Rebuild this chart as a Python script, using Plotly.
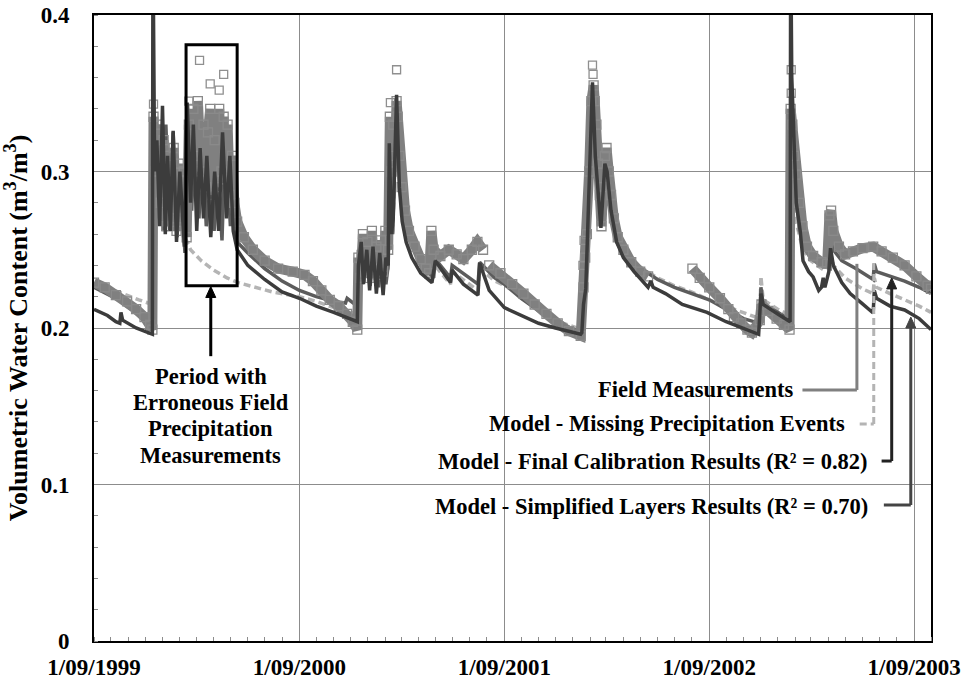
import plotly.graph_objects as go

# ---------------- data ----------------
field_dates = [
    "1999-09-01", "1999-09-20", "1999-10-10", "1999-10-30", "1999-11-15", "1999-11-30", "1999-12-10", "1999-12-14",
    "1999-12-16", "1999-12-20", "1999-12-24", "1999-12-29", "2000-01-03", "2000-01-08", "2000-01-12", "2000-01-17",
    "2000-01-21", "2000-01-26", "2000-01-30", "2000-02-04", "2000-02-08", "2000-02-13", "2000-02-17", "2000-02-21",
    "2000-02-25", "2000-02-29", "2000-03-04", "2000-03-10", "2000-03-14", "2000-03-18", "2000-03-22", "2000-03-26",
    "2000-03-30", "2000-04-03", "2000-04-07", "2000-04-11", "2000-04-15", "2000-04-19", "2000-04-22", "2000-04-26",
    "2000-04-30", "2000-05-04", "2000-05-08", "2000-05-13", "2000-05-25", "2000-06-10", "2000-07-01", "2000-07-25",
    "2000-08-20", "2000-09-10", "2000-09-25", "2000-10-10", "2000-10-25", "2000-11-10", "2000-11-25", "2000-12-05",
    "2000-12-13", "2000-12-15", "2000-12-19", "2000-12-23", "2000-12-27", "2000-12-31", "2001-01-04", "2001-01-08",
    "2001-01-12", "2001-01-16", "2001-01-20", "2001-01-24", "2001-01-28", "2001-02-01", "2001-02-06", "2001-02-09",
    "2001-02-12", "2001-02-15", "2001-02-18", "2001-02-21", "2001-02-23", "2001-02-26", "2001-03-02", "2001-03-08",
    "2001-03-15", "2001-03-25", "2001-04-05", "2001-04-14", "2001-04-20", "2001-04-24", "2001-04-28", "2001-05-10",
    "2001-05-25", "2001-06-08", "2001-06-20", "2001-07-05", "2001-07-15", "2001-07-25", "2001-07-30", "2001-08-05",
    "2001-08-25", "2001-09-15", "2001-10-05", "2001-10-25", "2001-11-15", "2001-12-05", "2001-12-25", "2002-01-15",
    "2002-01-20", "2002-01-23", "2002-01-26", "2002-01-30", "2002-02-03", "2002-02-07", "2002-02-09", "2002-02-12",
    "2002-02-15", "2002-02-18", "2002-02-21", "2002-02-24", "2002-02-27", "2002-03-02", "2002-03-06", "2002-03-10",
    "2002-03-15", "2002-03-22", "2002-04-01", "2002-04-15", "2002-05-01", "2002-05-15", "2002-06-01", "2002-08-02",
    "2002-08-15", "2002-09-01", "2002-09-20", "2002-10-05", "2002-10-15", "2002-10-28", "2002-11-08", "2002-11-16",
    "2002-11-30", "2002-12-03", "2002-12-15", "2002-12-30", "2003-01-12", "2003-01-22", "2003-01-24", "2003-01-27",
    "2003-01-30", "2003-02-03", "2003-02-08", "2003-02-14", "2003-02-22", "2003-03-05", "2003-03-20", "2003-03-30",
    "2003-04-03", "2003-04-06", "2003-04-10", "2003-04-20", "2003-05-01", "2003-05-15", "2003-06-01", "2003-06-20",
    "2003-07-05", "2003-07-25", "2003-08-15", "2003-09-05", "2003-09-25", "2003-10-01",
]
field_values = [
    0.229, 0.226, 0.221, 0.217, 0.212, 0.207, 0.202, 0.199,
    0.335, 0.300, 0.330, 0.280, 0.320, 0.265, 0.310, 0.270,
    0.315, 0.262, 0.305, 0.270, 0.300, 0.258, 0.330, 0.300,
    0.340, 0.310, 0.345, 0.300, 0.330, 0.290, 0.325, 0.340,
    0.285, 0.320, 0.290, 0.340, 0.300, 0.335, 0.295, 0.330,
    0.285, 0.310, 0.280, 0.268, 0.258, 0.250, 0.243, 0.238,
    0.236, 0.234, 0.230, 0.224, 0.218, 0.214, 0.209, 0.204,
    0.199, 0.245, 0.232, 0.260, 0.236, 0.255, 0.232, 0.262,
    0.238, 0.252, 0.234, 0.256, 0.236, 0.262, 0.250, 0.335,
    0.300, 0.330, 0.310, 0.345, 0.335, 0.310, 0.290, 0.275,
    0.262, 0.252, 0.244, 0.238, 0.235, 0.262, 0.250, 0.246,
    0.250, 0.247, 0.244, 0.250, 0.255, 0.250, None, 0.240,
    0.235, 0.228, 0.222, 0.215, 0.209, 0.203, 0.198, 0.195,
    0.226, 0.245, 0.260, 0.300, 0.345, 0.355, 0.345, 0.330,
    0.305, 0.285, 0.265, 0.290, 0.310, 0.315, 0.300, 0.285,
    0.270, 0.258, 0.250, 0.242, 0.236, 0.233, None, 0.238,
    0.232, 0.226, 0.219, 0.212, 0.207, 0.203, 0.199, 0.197,
    0.205, 0.215, 0.211, 0.206, 0.202, 0.199, 0.340, 0.330,
    0.310, 0.298, 0.280, 0.265, 0.252, 0.246, 0.242, 0.241,
    0.272, 0.275, 0.262, 0.252, 0.247, 0.249, 0.251, 0.252,
    0.249, 0.245, 0.240, 0.233, 0.227, 0.225,
]

field_outlier_dates = ["1999-12-16", "2000-02-17", "2000-03-07", "2000-03-26", "2000-04-11", "2000-04-19",
                       "2001-02-10", "2001-02-21", "2002-01-19", "2002-01-21", "2002-02-05", "2002-02-06",
                       "2003-01-25", "2003-01-25"]
field_outlier_values = [0.343, 0.345, 0.371, 0.356, 0.352, 0.362,
                        0.344, 0.365, 0.240, 0.256, 0.368, 0.362,
                        0.365, 0.350]

missing_dates = [
    "1999-09-01", "1999-10-15", "1999-11-20", "1999-12-14", "1999-12-16", "1999-12-25", "2000-01-05", "2000-01-18",
    "2000-01-28", "2000-02-10", "2000-02-20", "2000-03-10", "2000-04-01", "2000-04-25", "2000-05-15", "2000-06-15",
    "2000-07-15", "2000-08-15", "2000-09-01", "2000-10-01", "2000-11-01", "2000-12-01", "2000-12-13",
    "2000-12-15", "2001-01-05", "2001-01-12", "2001-01-25", "2001-02-06", "2001-02-10", "2001-02-14", "2001-02-21",
    "2001-02-26", "2001-03-05", "2001-03-15", "2001-03-30", "2001-04-20", "2001-04-30", "2001-05-28", "2001-05-31",
    "2001-07-16", "2001-07-19", "2001-08-15", "2001-09-15", "2001-10-15", "2001-11-15", "2001-12-15", "2002-01-17",
    "2002-01-22", "2002-02-04", "2002-02-10", "2002-02-20", "2002-03-01", "2002-03-10", "2002-03-20", "2002-04-05",
    "2002-05-01", "2002-06-01", "2002-07-01", "2002-08-01", "2002-08-25", "2002-09-20", "2002-10-15", "2002-11-15",
    "2002-11-30", "2002-12-02", "2002-12-06", "2003-01-01", "2003-01-23", "2003-01-24", "2003-02-01", "2003-02-15",
    "2003-03-01", "2003-03-20", "2003-04-05", "2003-04-10", "2003-05-01", "2003-06-01", "2003-06-20", "2003-06-22",
    "2003-06-26", "2003-07-20", "2003-08-15", "2003-09-10", "2003-10-01",
]
missing_values = [
    0.228, 0.223, 0.218, 0.215, 0.300, 0.270, 0.290, 0.265,
    0.280, 0.258, 0.250, 0.243, 0.237, 0.232, 0.229, 0.226,
    0.223, 0.221, 0.220, 0.217, 0.213, 0.210, 0.209,
    0.245, 0.228, 0.252, 0.230, 0.238, 0.310, 0.260, 0.335,
    0.300, 0.275, 0.258, 0.245, 0.232, 0.240, 0.228, 0.236,
    0.224, 0.238, 0.230, 0.225, 0.217, 0.210, 0.203, 0.199,
    0.240, 0.330, 0.300, 0.270, 0.300, 0.280, 0.260, 0.248,
    0.239, 0.232, 0.227, 0.223, 0.219, 0.215, 0.212, 0.208,
    0.206, 0.233, 0.218, 0.212, 0.208, 0.300, 0.270, 0.250,
    0.243, 0.238, 0.248, 0.240, 0.232, 0.225, 0.222, 0.232,
    0.226, 0.222, 0.218, 0.214, 0.210,
]

final_dates = [
    "1999-09-01", "1999-10-15", "1999-11-20", "1999-12-14", "1999-12-16", "1999-12-22", "1999-12-27", "2000-01-02",
    "2000-01-07", "2000-01-14", "2000-01-20", "2000-01-27", "2000-02-02", "2000-02-10", "2000-02-15", "2000-02-22",
    "2000-02-28", "2000-03-06", "2000-03-12", "2000-03-19", "2000-03-25", "2000-04-02", "2000-04-08", "2000-04-16",
    "2000-04-22", "2000-05-01", "2000-05-06", "2000-05-13", "2000-06-01", "2000-07-01", "2000-08-01", "2000-09-01",
    "2000-10-01", "2000-11-01", "2000-11-22", "2000-11-25", "2000-12-13",
    "2000-12-15", "2000-12-22", "2000-12-28", "2001-01-05", "2001-01-12", "2001-01-20", "2001-01-26", "2001-02-02",
    "2001-02-06", "2001-02-10", "2001-02-14", "2001-02-21", "2001-02-25", "2001-03-03", "2001-03-12", "2001-03-25",
    "2001-04-08", "2001-04-28", "2001-05-01", "2001-05-28", "2001-05-31", "2001-07-16", "2001-07-19", "2001-08-15",
    "2001-09-01", "2001-10-01", "2001-11-01", "2001-12-01", "2002-01-01", "2002-01-17",
    "2002-01-20", "2002-01-26", "2002-02-04", "2002-02-08", "2002-02-14", "2002-02-20", "2002-02-26", "2002-03-02",
    "2002-03-08", "2002-03-18", "2002-04-01", "2002-04-20", "2002-05-10", "2002-06-01", "2002-07-01", "2002-08-01",
    "2002-09-01", "2002-10-01", "2002-11-01", "2002-11-30", "2002-12-02", "2002-12-06", "2003-01-01", "2003-01-23",
    "2003-01-25", "2003-01-30", "2003-02-05", "2003-02-15", "2003-02-28", "2003-03-20", "2003-04-04", "2003-04-05",
    "2003-04-10", "2003-04-25", "2003-05-20", "2003-06-20", "2003-06-22", "2003-06-26", "2003-07-20", "2003-08-15",
    "2003-09-10", "2003-10-01",
]
final_values = [
    0.226, 0.218, 0.208, 0.200, 0.330, 0.270, 0.320, 0.262,
    0.330, 0.262, 0.325, 0.258, 0.300, 0.248, 0.340, 0.275,
    0.330, 0.270, 0.320, 0.265, 0.300, 0.262, 0.310, 0.256,
    0.325, 0.265, 0.300, 0.255, 0.248, 0.238, 0.230, 0.224,
    0.220, 0.217, 0.216, 0.219, 0.214,
    0.250, 0.228, 0.255, 0.227, 0.258, 0.226, 0.250, 0.228,
    0.240, 0.320, 0.260, 0.345, 0.310, 0.280, 0.262, 0.250,
    0.240, 0.232, 0.244, 0.232, 0.240, 0.228, 0.242, 0.232,
    0.228, 0.219, 0.211, 0.204, 0.199, 0.197,
    0.220, 0.270, 0.350, 0.330, 0.290, 0.268, 0.305, 0.310,
    0.285, 0.262, 0.250, 0.241, 0.236, 0.231, 0.226, 0.222,
    0.218, 0.212, 0.206, 0.203, 0.226, 0.215, 0.210, 0.205,
    0.330, 0.300, 0.275, 0.255, 0.245, 0.240, 0.238, 0.262,
    0.250, 0.243, 0.238, 0.231, 0.241, 0.236, 0.233, 0.230,
    0.226, 0.222,
]

simple_dates = [
    "1999-09-01", "1999-09-25", "1999-10-10", "1999-10-17", "1999-10-19", "1999-10-22", "1999-11-15", "1999-12-14",
    "1999-12-15", "1999-12-18", "1999-12-22", "1999-12-27", "2000-01-01", "2000-01-06", "2000-01-10", "2000-01-15",
    "2000-01-20", "2000-01-26", "2000-02-01", "2000-02-09", "2000-02-14", "2000-02-20", "2000-02-25", "2000-03-02",
    "2000-03-08", "2000-03-14", "2000-03-20", "2000-03-27", "2000-04-03", "2000-04-10", "2000-04-17", "2000-04-24",
    "2000-04-30", "2000-05-06", "2000-05-13", "2000-06-01", "2000-07-01", "2000-08-01", "2000-09-01", "2000-10-01",
    "2000-11-01", "2000-12-01", "2000-12-13",
    "2000-12-15", "2000-12-20", "2000-12-24", "2000-12-30", "2001-01-04", "2001-01-10", "2001-01-16", "2001-01-22",
    "2001-01-28", "2001-02-02", "2001-02-06", "2001-02-08", "2001-02-12", "2001-02-15", "2001-02-21", "2001-02-26",
    "2001-03-03", "2001-03-10", "2001-03-20", "2001-04-05", "2001-04-25", "2001-05-01", "2001-05-28", "2001-05-31",
    "2001-06-20", "2001-07-16", "2001-07-19", "2001-08-05", "2001-09-01", "2001-10-01", "2001-11-01", "2001-12-01",
    "2002-01-15", "2002-01-17",
    "2002-01-20", "2002-01-24", "2002-02-05", "2002-02-10", "2002-02-16", "2002-02-20", "2002-02-27", "2002-03-03",
    "2002-03-10", "2002-03-20", "2002-04-01", "2002-04-20", "2002-05-15", "2002-05-20", "2002-05-24", "2002-06-15",
    "2002-07-15", "2002-08-28", "2002-10-01", "2002-11-01", "2002-11-28", "2002-12-02", "2002-12-06", "2003-01-01",
    "2003-01-23", "2003-01-24", "2003-01-26", "2003-02-03", "2003-02-10", "2003-02-15", "2003-02-25", "2003-03-05",
    "2003-03-15", "2003-03-20", "2003-03-23", "2003-03-26", "2003-04-02", "2003-04-05", "2003-04-10", "2003-04-25",
    "2003-05-10", "2003-05-30", "2003-06-20", "2003-06-22", "2003-06-26", "2003-07-20", "2003-08-15", "2003-09-10",
    "2003-10-01",
]
simple_values = [
    0.212, 0.208, 0.204, 0.203, 0.210, 0.205, 0.200, 0.196,
    0.450, 0.300, 0.320, 0.265, 0.342, 0.260, 0.310, 0.262,
    0.326, 0.255, 0.300, 0.252, 0.344, 0.280, 0.330, 0.262,
    0.315, 0.270, 0.310, 0.258, 0.300, 0.262, 0.325, 0.270,
    0.310, 0.262, 0.250, 0.240, 0.231, 0.223, 0.219, 0.214,
    0.210, 0.206, 0.204,
    0.240, 0.255, 0.228, 0.250, 0.224, 0.252, 0.222, 0.248,
    0.221, 0.245, 0.240, 0.318, 0.260, 0.270, 0.349, 0.290,
    0.268, 0.255, 0.245, 0.235, 0.229, 0.243, 0.229, 0.237,
    0.228, 0.221, 0.2415, 0.224, 0.213, 0.208, 0.203, 0.200,
    0.196, 0.197,
    0.215, 0.225, 0.357, 0.310, 0.280, 0.264, 0.305, 0.300,
    0.275, 0.255, 0.245, 0.236, 0.226, 0.230, 0.226, 0.222,
    0.215, 0.210, 0.204, 0.200, 0.196, 0.222, 0.215, 0.209,
    0.204, 0.450, 0.360, 0.280, 0.262, 0.243, 0.236, 0.2326,
    0.224, 0.226, 0.232, 0.226, 0.236, 0.251, 0.240, 0.229,
    0.222, 0.216, 0.2096, 0.224, 0.219, 0.214, 0.2115, 0.206,
    0.199,
]

year_ticks = ["1999-09-01", "2000-09-01", "2001-09-01", "2002-09-01", "2003-09-01"]
year_labels = ["1/09/1999", "1/09/2000", "1/09/2001", "1/09/2002", "1/09/2003"]
y_ticks = [0, 0.1, 0.2, 0.3, 0.4]
y_labels = ["0", "0.1", "0.2", "0.3", "0.4"]

series_labels = [
    "Field Measurements",
    "Model - Missing Precipitation Events",
    "Model - Final Calibration Results (R² = 0.82)",
    "Model - Simplified Layers Results (R² = 0.70)",
]
period_lines = ["Period with", "Erroneous Field", "Precipitation", "Measurements"]
period_line_y = [0.1687, 0.1521, 0.1355, 0.1188]

# ---------------- styling ----------------
FONT = "Liberation Serif, Times New Roman, serif"
C_FIELD = "#808080"
C_MISS = "#b4b4b4"
C_FINAL = "#5c5c5c"
C_SIMPLE = "#3c3c3c"
GRID = "#8c8c8c"

fig = go.Figure()

fig.add_trace(go.Scatter(x=missing_dates, y=missing_values, mode="lines",
                         line=dict(color=C_MISS, width=3.5, dash="7px,4px"), name=series_labels[1]))
fig.add_trace(go.Scatter(x=final_dates, y=final_values, mode="lines",
                         line=dict(color=C_FINAL, width=3.5), name=series_labels[2]))
fig.add_trace(go.Scatter(x=field_dates, y=field_values, mode="lines+markers",
                         line=dict(color=C_FIELD, width=10),
                         marker=dict(symbol="square-open", size=9, color="#8a8a8a", line=dict(width=1.3)),
                         connectgaps=False, name=series_labels[0]))
fig.add_trace(go.Scatter(x=field_outlier_dates, y=field_outlier_values, mode="markers",
                         marker=dict(symbol="square-open", size=8, color="#8f8f8f", line=dict(width=1.3)),
                         showlegend=False))
fig.add_trace(go.Scatter(x=simple_dates, y=simple_values, mode="lines",
                         line=dict(color=C_SIMPLE, width=3.5), name=series_labels[3]))


def arrow_head(x, y, color):
    # small triangle whose tip sits at (x, y); sized in pixels
    return dict(type="path", xref="x", yref="y", xsizemode="pixel", ysizemode="pixel",
                xanchor=x, yanchor=y, path="M 0 0 L -5 -11 L 5 -11 Z",
                fillcolor=color, line=dict(color=color, width=1))


# ---------------- annotation box and leaders ----------------
shapes = [
    dict(type="rect", xref="x", yref="y", x0="2000-02-12", x1="2000-05-13", y0=0.227, y1=0.381,
         line=dict(color="black", width=3)),
    # arrow from the caption to the box
    dict(type="line", xref="x", yref="y", x0="2000-03-27", x1="2000-03-27", y0=0.182, y1=0.222,
         line=dict(color="black", width=3)),
    arrow_head("2000-03-27", 0.2265, "black"),
    # Field leader
    dict(type="line", xref="x", yref="y", x0="2003-02-14", x1="2003-05-22", y0=0.1604, y1=0.1604,
         line=dict(color=C_FIELD, width=3)),
    dict(type="line", xref="x", yref="y", x0="2003-05-22", x1="2003-05-22", y0=0.1604, y1=0.241,
         line=dict(color=C_FIELD, width=3)),
    # Missing precipitation leader
    dict(type="line", xref="x", yref="y", x0="2003-05-27", x1="2003-06-21", y0=0.1387, y1=0.1387,
         line=dict(color=C_MISS, width=3, dash="7px,4px")),
    dict(type="line", xref="x", yref="y", x0="2003-06-21", x1="2003-06-21", y0=0.1387, y1=0.242,
         line=dict(color=C_MISS, width=3, dash="7px,4px")),
    # Final calibration leader
    dict(type="line", xref="x", yref="y", x0="2003-07-05", x1="2003-07-23", y0=0.115, y1=0.115,
         line=dict(color="#222222", width=3)),
    dict(type="line", xref="x", yref="y", x0="2003-07-23", x1="2003-07-23", y0=0.115, y1=0.226,
         line=dict(color="#222222", width=3)),
    arrow_head("2003-07-23", 0.232, "#222222"),
    # Simplified leader
    dict(type="line", xref="x", yref="y", x0="2003-07-09", x1="2003-08-26", y0=0.0869, y1=0.0869,
         line=dict(color="#444444", width=3)),
    dict(type="line", xref="x", yref="y", x0="2003-08-26", x1="2003-08-26", y0=0.0869, y1=0.201,
         line=dict(color="#444444", width=3)),
    arrow_head("2003-08-26", 0.207, "#444444"),
]

txt_font = dict(family=FONT, size=22.5, color="black", weight="bold")
annotations = [
    dict(x="2000-03-27", y=yv, xref="x", yref="y", showarrow=False, text=t, font=txt_font,
         xanchor="center", yanchor="middle")
    for t, yv in zip(period_lines, period_line_y)
] + [
    dict(x="2003-02-01", y=0.1604, xref="x", yref="y", showarrow=False, text=series_labels[0], font=txt_font,
         xanchor="right", yanchor="middle"),
    dict(x="2003-05-04", y=0.1387, xref="x", yref="y", showarrow=False, text=series_labels[1], font=txt_font,
         xanchor="right", yanchor="middle"),
    dict(x="2003-06-15", y=0.115, xref="x", yref="y", showarrow=False, text=series_labels[2], font=txt_font,
         xanchor="right", yanchor="middle"),
    dict(x="2003-06-15", y=0.0862, xref="x", yref="y", showarrow=False, text=series_labels[3], font=txt_font,
         xanchor="right", yanchor="middle"),
]

fig.update_layout(
    width=962, height=687,
    margin=dict(l=94, r=31, t=15, b=46),
    paper_bgcolor="white", plot_bgcolor="white",
    showlegend=False,
    shapes=shapes, annotations=annotations,
    font=dict(family=FONT, color="black"),
    xaxis=dict(
        type="date", range=["1999-09-01", "2003-10-01"], automargin=False,
        tickmode="array", tickvals=year_ticks, ticktext=year_labels,
        tickfont=dict(family=FONT, size=23, color="black", weight="bold"),
        ticks="", ticklabelstandoff=4,
        showgrid=True, gridcolor=GRID, gridwidth=1,
        showline=True, linecolor="black", linewidth=2, mirror=True,
        zeroline=False,
        minor=dict(dtick="M1", tick0="1999-09-01", ticks="inside", ticklen=4, tickcolor=GRID, tickwidth=1,
                   showgrid=False),
    ),
    yaxis=dict(
        range=[0, 0.4], automargin=False,
        tickmode="array", tickvals=y_ticks, ticktext=y_labels,
        tickfont=dict(family=FONT, size=23, color="black", weight="bold"),
        ticks="", ticklabelstandoff=18,
        showgrid=True, gridcolor=GRID, gridwidth=1,
        showline=True, linecolor="black", linewidth=2, mirror=True,
        zeroline=False,
        minor=dict(dtick=0.02, tick0=0, ticks="inside", ticklen=4, tickcolor=GRID, tickwidth=1, showgrid=False),
        title=dict(text="Volumetric Water Content (m<sup>3</sup>/m<sup>3</sup>)",
                   font=dict(family=FONT, size=26, color="black", weight="bold"), standoff=8),
    ),
)

fig.write_html("out.html")
